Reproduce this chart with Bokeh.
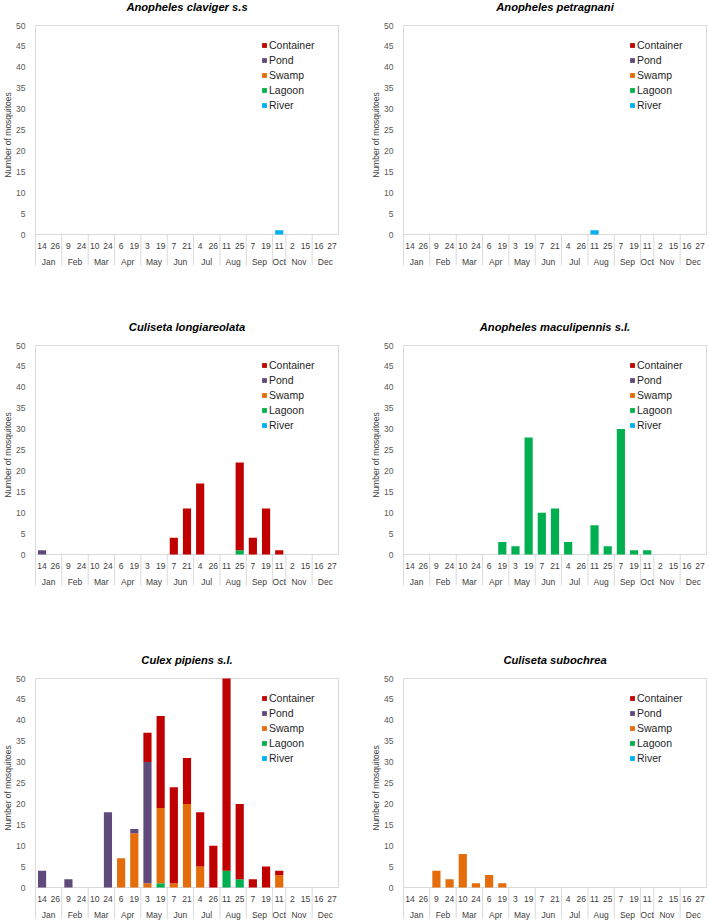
from bokeh.plotting import figure
from bokeh.layouts import column, row
from bokeh.models import (ColumnDataSource, FactorRange, Range1d, FixedTicker,
                          Legend, LegendItem)
from bokeh.core.properties import value
from bokeh.embed import file_html
from bokeh.resources import INLINE

# ---------------------------------------------------------------- data
months = ["Jan", "Feb", "Mar", "Apr", "May", "Jun",
          "Jul", "Aug", "Sep", "Oct", "Nov", "Dec"]
sampling_days = [["14", "26"], ["9", "24"], ["10", "24"], ["6", "19"],
                 ["3", "19"], ["7", "21"], ["4", "26"], ["11", "25"],
                 ["7", "19"], ["11"], ["2", "15"], ["16", "27"]]
y_ticks = [0, 5, 10, 15, 20, 25, 30, 35, 40, 45, 50]

# stacking order, bottom to top
habitats = ["River", "Lagoon", "Swamp", "Pond", "Container"]
habitat_colors = ["#00B0F0", "#00B050", "#E46C0A", "#604A7B", "#C00000"]

claviger_container = [0, 0, 0, 0, 0, 0, 0, 0, 0, 0, 0, 0, 0, 0, 0, 0, 0, 0, 0, 0, 0, 0, 0]
claviger_pond      = [0, 0, 0, 0, 0, 0, 0, 0, 0, 0, 0, 0, 0, 0, 0, 0, 0, 0, 0, 0, 0, 0, 0]
claviger_swamp     = [0, 0, 0, 0, 0, 0, 0, 0, 0, 0, 0, 0, 0, 0, 0, 0, 0, 0, 0, 0, 0, 0, 0]
claviger_lagoon    = [0, 0, 0, 0, 0, 0, 0, 0, 0, 0, 0, 0, 0, 0, 0, 0, 0, 0, 0, 0, 0, 0, 0]
claviger_river     = [0, 0, 0, 0, 0, 0, 0, 0, 0, 0, 0, 0, 0, 0, 0, 0, 0, 0, 1, 0, 0, 0, 0]

petragnani_container = [0, 0, 0, 0, 0, 0, 0, 0, 0, 0, 0, 0, 0, 0, 0, 0, 0, 0, 0, 0, 0, 0, 0]
petragnani_pond      = [0, 0, 0, 0, 0, 0, 0, 0, 0, 0, 0, 0, 0, 0, 0, 0, 0, 0, 0, 0, 0, 0, 0]
petragnani_swamp     = [0, 0, 0, 0, 0, 0, 0, 0, 0, 0, 0, 0, 0, 0, 0, 0, 0, 0, 0, 0, 0, 0, 0]
petragnani_lagoon    = [0, 0, 0, 0, 0, 0, 0, 0, 0, 0, 0, 0, 0, 0, 0, 0, 0, 0, 0, 0, 0, 0, 0]
petragnani_river     = [0, 0, 0, 0, 0, 0, 0, 0, 0, 0, 0, 0, 0, 0, 1, 0, 0, 0, 0, 0, 0, 0, 0]

longiareolata_container = [0, 0, 0, 0, 0, 0, 0, 0, 0, 0, 4, 11, 17, 0, 0, 21, 4, 11, 1, 0, 0, 0, 0]
longiareolata_pond      = [1, 0, 0, 0, 0, 0, 0, 0, 0, 0, 0, 0, 0, 0, 0, 0, 0, 0, 0, 0, 0, 0, 0]
longiareolata_swamp     = [0, 0, 0, 0, 0, 0, 0, 0, 0, 0, 0, 0, 0, 0, 0, 0, 0, 0, 0, 0, 0, 0, 0]
longiareolata_lagoon    = [0, 0, 0, 0, 0, 0, 0, 0, 0, 0, 0, 0, 0, 0, 0, 1, 0, 0, 0, 0, 0, 0, 0]
longiareolata_river     = [0, 0, 0, 0, 0, 0, 0, 0, 0, 0, 0, 0, 0, 0, 0, 0, 0, 0, 0, 0, 0, 0, 0]

maculipennis_container = [0, 0, 0, 0, 0, 0, 0, 0, 0, 0, 0, 0, 0, 0, 0, 0, 0, 0, 0, 0, 0, 0, 0]
maculipennis_pond      = [0, 0, 0, 0, 0, 0, 0, 0, 0, 0, 0, 0, 0, 0, 0, 0, 0, 0, 0, 0, 0, 0, 0]
maculipennis_swamp     = [0, 0, 0, 0, 0, 0, 0, 0, 0, 0, 0, 0, 0, 0, 0, 0, 0, 0, 0, 0, 0, 0, 0]
maculipennis_lagoon    = [0, 0, 0, 0, 0, 0, 0, 3, 2, 28, 10, 11, 3, 0, 7, 2, 30, 1, 1, 0, 0, 0, 0]
maculipennis_river     = [0, 0, 0, 0, 0, 0, 0, 0, 0, 0, 0, 0, 0, 0, 0, 0, 0, 0, 0, 0, 0, 0, 0]

pipiens_container = [0, 0, 0, 0, 0, 0, 0, 0, 7, 22, 23, 11, 13, 10, 46, 18, 2, 5, 1, 0, 0, 0, 0]
pipiens_pond      = [4, 0, 2, 0, 0, 18, 0, 1, 29, 0, 0, 0, 0, 0, 0, 0, 0, 0, 0, 0, 0, 0, 0]
pipiens_swamp     = [0, 0, 0, 0, 0, 0, 7, 13, 1, 18, 1, 20, 5, 0, 0, 0, 0, 0, 3, 0, 0, 0, 0]
pipiens_lagoon    = [0, 0, 0, 0, 0, 0, 0, 0, 0, 1, 0, 0, 0, 0, 4, 2, 0, 0, 0, 0, 0, 0, 0]
pipiens_river     = [0, 0, 0, 0, 0, 0, 0, 0, 0, 0, 0, 0, 0, 0, 0, 0, 0, 0, 0, 0, 0, 0, 0]

subochrea_container = [0, 0, 0, 0, 0, 0, 0, 0, 0, 0, 0, 0, 0, 0, 0, 0, 0, 0, 0, 0, 0, 0, 0]
subochrea_pond      = [0, 0, 0, 0, 0, 0, 0, 0, 0, 0, 0, 0, 0, 0, 0, 0, 0, 0, 0, 0, 0, 0, 0]
subochrea_swamp     = [0, 0, 4, 2, 8, 1, 3, 1, 0, 0, 0, 0, 0, 0, 0, 0, 0, 0, 0, 0, 0, 0, 0]
subochrea_lagoon    = [0, 0, 0, 0, 0, 0, 0, 0, 0, 0, 0, 0, 0, 0, 0, 0, 0, 0, 0, 0, 0, 0, 0]
subochrea_river     = [0, 0, 0, 0, 0, 0, 0, 0, 0, 0, 0, 0, 0, 0, 0, 0, 0, 0, 0, 0, 0, 0, 0]

# ---------------------------------------------------------------- style
FONT = "Liberation Sans"
FRAME_COLOR = "#D9D9D9"
TEXT_COLOR = "#404040"
PX_PER_UNIT = 209 / 50            # vertical pixels per mosquito
TITLE_PX, TOP_PX = 19, 25         # above the 50 line
DAY_ROW_PX, MONTH_ROW_PX, SEPARATOR_PX, BOTTOM_PX = 11, 27, 31, 35   # below zero

factors = [(m, d) for m, days in zip(months, sampling_days) for d in days]
month_edges = []
edge = 0
for days in sampling_days:
    month_edges.append(edge)
    edge += len(days)


def make_panel(title, series, width, height, border, shift=0):
    left, right, bottom = border
    x_range = FactorRange(*factors, group_padding=0, subgroup_padding=0,
                          factor_padding=0, range_padding=0.15,
                          range_padding_units="absolute")
    y_top = y_ticks[-1] + TOP_PX / PX_PER_UNIT
    y_range = Range1d(-BOTTOM_PX / PX_PER_UNIT, y_top)
    p = figure(x_range=x_range, y_range=y_range, width=width, height=height,
               output_backend="svg", toolbar_location=None,
               x_axis_location=None, min_border_left=left,
               min_border_right=right, min_border_top=0,
               min_border_bottom=bottom, outline_line_color=None,
               background_fill_color="white", border_fill_color="white",
               margin=(0, 0, 0, -shift))
    p.xgrid.grid_line_color = None
    p.ygrid.grid_line_color = None

    # y axis
    ax = p.yaxis[0]
    ax.ticker = FixedTicker(ticks=y_ticks)
    ax.bounds = (y_ticks[0], y_ticks[-1])
    ax.axis_line_color = None
    ax.major_tick_line_color = None
    ax.minor_tick_line_color = None
    ax.major_tick_out = 0
    ax.major_tick_in = 0
    ax.minor_tick_out = 0
    ax.minor_tick_in = 0
    ax.major_label_text_font = FONT
    ax.major_label_text_font_size = "8.5px"
    ax.major_label_text_color = "#595959"
    ax.major_label_standoff = 8
    ax.axis_label = "Number of mosquitoes"
    ax.axis_label_text_font = FONT
    ax.axis_label_text_font_size = "8.5px"
    ax.axis_label_text_font_style = "normal"
    ax.axis_label_text_color = TEXT_COLOR
    ax.axis_label_standoff = 0

    # plot box above zero and month separators below it
    p.quad(left=0, right=len(factors), bottom=y_ticks[0], top=y_ticks[-1],
           fill_color=None, line_color=FRAME_COLOR, line_width=1)
    p.segment(x0=month_edges, y0=[0] * len(month_edges), x1=month_edges,
              y1=[-SEPARATOR_PX / PX_PER_UNIT] * len(month_edges),
              line_color=FRAME_COLOR, line_width=1)

    # stacked bars
    data = {"x": factors}
    data.update(series)
    src = ColumnDataSource(data)
    renderers = p.vbar_stack(habitats, x="x", width=0.62, source=src,
                             fill_color=habitat_colors, line_color=None)

    # panel title, centred over the plot box
    p.text(x=[len(factors) / 2], y=[y_ticks[-1] + TITLE_PX / PX_PER_UNIT],
           text=[title], text_align="center", text_baseline="middle",
           text_font=value(FONT), text_font_size="11.2px",
           text_font_style="bold italic", text_color="#000000")

    # two-level category labels
    day_src = ColumnDataSource(dict(x=factors, y=[-DAY_ROW_PX / PX_PER_UNIT] * len(factors),
                                    t=[f[1] for f in factors]))
    p.text(x="x", y="y", text="t", source=day_src, text_align="center",
           text_baseline="middle", text_font=value(FONT),
           text_font_size="8.5px", text_color=TEXT_COLOR)
    month_src = ColumnDataSource(dict(x=months, y=[-MONTH_ROW_PX / PX_PER_UNIT] * len(months),
                                      t=months))
    p.text(x="x", y="y", text="t", source=month_src, text_align="center",
           text_baseline="middle", text_font=value(FONT),
           text_font_size="8.5px", text_color=TEXT_COLOR)

    # legend, listed top of stack first
    items = [LegendItem(label=h, renderers=[r])
             for h, r in reversed(list(zip(habitats, renderers)))]
    legend = Legend(items=items, location=(228, 158), orientation="vertical",
                    glyph_width=6, glyph_height=6, label_standoff=2,
                    label_height=13, spacing=2, padding=0, margin=0,
                    border_line_color=None, background_fill_alpha=0,
                    label_text_font=FONT, label_text_font_size="10.5px",
                    label_text_color="#262626")
    p.add_layout(legend)
    return p


def habitat_series(container, pond, swamp, lagoon, river):
    return {"Container": container, "Pond": pond, "Swamp": swamp,
            "Lagoon": lagoon, "River": river}


LEFT_SHIFT = 8
LEFT_W, RIGHT_W = 355 + LEFT_SHIFT, 354
ROW_H = [320, 333, 269]
LEFT_B = (33 + LEFT_SHIFT, 15)
RIGHT_B = (46, 1)
ROW_BOTTOM = [51, 64, 0]

p1 = make_panel("Anopheles claviger s.s",
                habitat_series(claviger_container, claviger_pond, claviger_swamp,
                               claviger_lagoon, claviger_river),
                LEFT_W, ROW_H[0], LEFT_B + (ROW_BOTTOM[0],), LEFT_SHIFT)
p2 = make_panel("Anopheles petragnani",
                habitat_series(petragnani_container, petragnani_pond, petragnani_swamp,
                               petragnani_lagoon, petragnani_river),
                RIGHT_W, ROW_H[0], RIGHT_B + (ROW_BOTTOM[0],))
p3 = make_panel("Culiseta longiareolata",
                habitat_series(longiareolata_container, longiareolata_pond,
                               longiareolata_swamp, longiareolata_lagoon,
                               longiareolata_river),
                LEFT_W, ROW_H[1], LEFT_B + (ROW_BOTTOM[1],), LEFT_SHIFT)
p4 = make_panel("Anopheles maculipennis s.l.",
                habitat_series(maculipennis_container, maculipennis_pond,
                               maculipennis_swamp, maculipennis_lagoon,
                               maculipennis_river),
                RIGHT_W, ROW_H[1], RIGHT_B + (ROW_BOTTOM[1],))
p5 = make_panel("Culex pipiens s.l.",
                habitat_series(pipiens_container, pipiens_pond, pipiens_swamp,
                               pipiens_lagoon, pipiens_river),
                LEFT_W, ROW_H[2], LEFT_B + (ROW_BOTTOM[2],), LEFT_SHIFT)
p6 = make_panel("Culiseta subochrea",
                habitat_series(subochrea_container, subochrea_pond, subochrea_swamp,
                               subochrea_lagoon, subochrea_river),
                RIGHT_W, ROW_H[2], RIGHT_B + (ROW_BOTTOM[2],))

layout = column(row(p1, p2), row(p3, p4), row(p5, p6))

with open("out.html", "w") as f:
    f.write(file_html(layout, INLINE))
